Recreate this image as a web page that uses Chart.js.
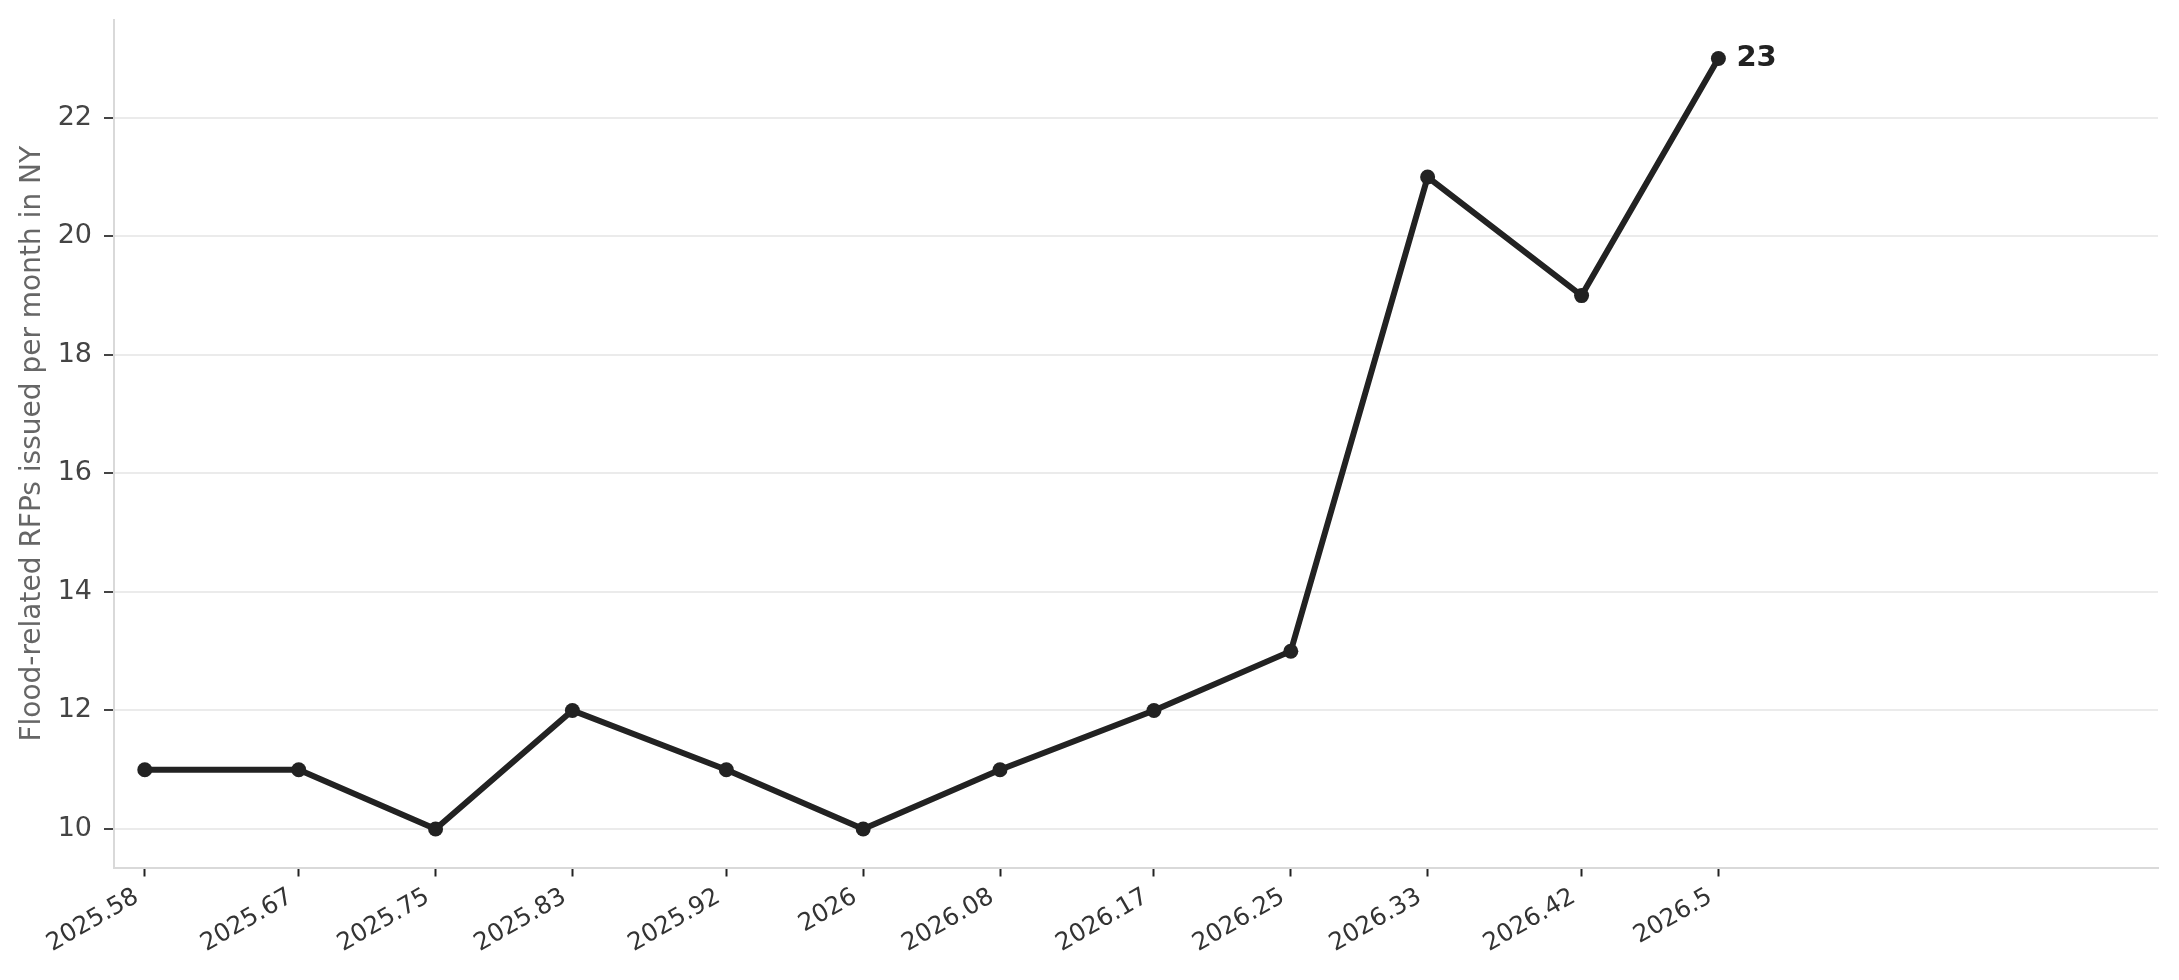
<!DOCTYPE html>
<html>
<head>
<meta charset="utf-8">
<title>Flood-related RFPs</title>
<script src="https://cdn.jsdelivr.net/npm/chart.js@4.4.1/dist/chart.umd.min.js"></script>
<style>
    html, body { margin: 0; padding: 0; background: #fff; }
    #wrap { width: 2179px; height: 980px; position: relative; }
</style>
</head>
<body>
<div id="wrap"><canvas id="rfpChart"></canvas></div>
<script>
// data
const xValues = [2025.58, 2025.67, 2025.75, 2025.83, 2025.92, 2026, 2026.08, 2026.17, 2026.25, 2026.33, 2026.42, 2026.5];
const xTickLabels = ['2025.58', '2025.67', '2025.75', '2025.83', '2025.92', '2026', '2026.08', '2026.17', '2026.25', '2026.33', '2026.42', '2026.5'];
const rfpCounts = [11, 11, 10, 12, 11, 10, 11, 12, 13, 21, 19, 23];
const yTicks = [10, 12, 14, 16, 18, 20, 22];
const yTitle = 'Flood-related RFPs issued per month in NY';

Chart.defaults.font.family = "'DejaVu Sans', sans-serif";

// label the last point with its value
const lastValueLabel = {
    id: 'lastValueLabel',
    afterDatasetsDraw(chart) {
        const meta = chart.getDatasetMeta(0);
        const pt = meta.data[meta.data.length - 1];
        const ctx = chart.ctx;
        ctx.save();
        ctx.font = "bold 29px 'DejaVu Sans', sans-serif";
        ctx.fillStyle = '#222';
        ctx.textAlign = 'left';
        ctx.textBaseline = 'middle';
        ctx.fillText(String(rfpCounts[rfpCounts.length - 1]), pt.x + 18, pt.y);
        ctx.restore();
    }
};

document.addEventListener('DOMContentLoaded', function() {
    const ctx = document.getElementById('rfpChart');
    new Chart(ctx, {
        type: 'line',
        data: {
            datasets: [{
                data: xValues.map((x, i) => ({ x: x, y: rfpCounts[i] })),
                borderColor: '#222',
                backgroundColor: '#222',
                borderWidth: 6,
                pointRadius: 7.5,
                pointBorderWidth: 0,
                pointBackgroundColor: '#222',
                tension: 0,
                fill: false
            }]
        },
        options: {
            responsive: true,
            maintainAspectRatio: false,
            animation: false,
            layout: { padding: { left: 4, top: 20, right: 21, bottom: 0 } },
            plugins: {
                legend: { display: false },
                tooltip: { enabled: false }
            },
            scales: {
                x: {
                    type: 'linear',
                    min: 2025.562,
                    max: 2026.757,
                    afterFit: s => {
                        s.height = 112.5;
                        s.paddingLeft = 0;
                        s.paddingRight = 0;
                    },
                    afterBuildTicks: s => { s.ticks = xValues.map(v => ({ value: v })); },
                    border: { display: true, color: '#d9d9d9', width: 2 },
                    grid: { drawOnChartArea: false, drawTicks: true, tickLength: 9, tickColor: '#222', tickWidth: 2 },
                    ticks: {
                        autoSkip: false,
                        minRotation: 30,
                        maxRotation: 30,
                        padding: 6,
                        labelOffset: -8,
                        color: '#333',
                        font: { size: 24.5 },
                        callback: (value, index) => xTickLabels[index]
                    }
                },
                y: {
                    min: 9.35,
                    max: 23.65,
                    afterFit: s => {
                        s.width = 110;
                        s.paddingTop = 0;
                        s.paddingBottom = 0;
                    },
                    afterBuildTicks: s => { s.ticks = yTicks.map(v => ({ value: v })); },
                    border: { display: true, color: '#d9d9d9', width: 2 },
                    grid: { color: '#ebebeb', lineWidth: 2, tickLength: 10, tickColor: '#444', tickWidth: 2 },
                    ticks: {
                        padding: 12,
                        color: '#444',
                        font: { size: 27 }
                    },
                    title: {
                        display: true,
                        text: yTitle,
                        color: '#666',
                        font: { size: 28 },
                        padding: { top: 12, bottom: 0 }
                    }
                }
            }
        },
        plugins: [lastValueLabel]
    });
});
</script>
</body>
</html>
